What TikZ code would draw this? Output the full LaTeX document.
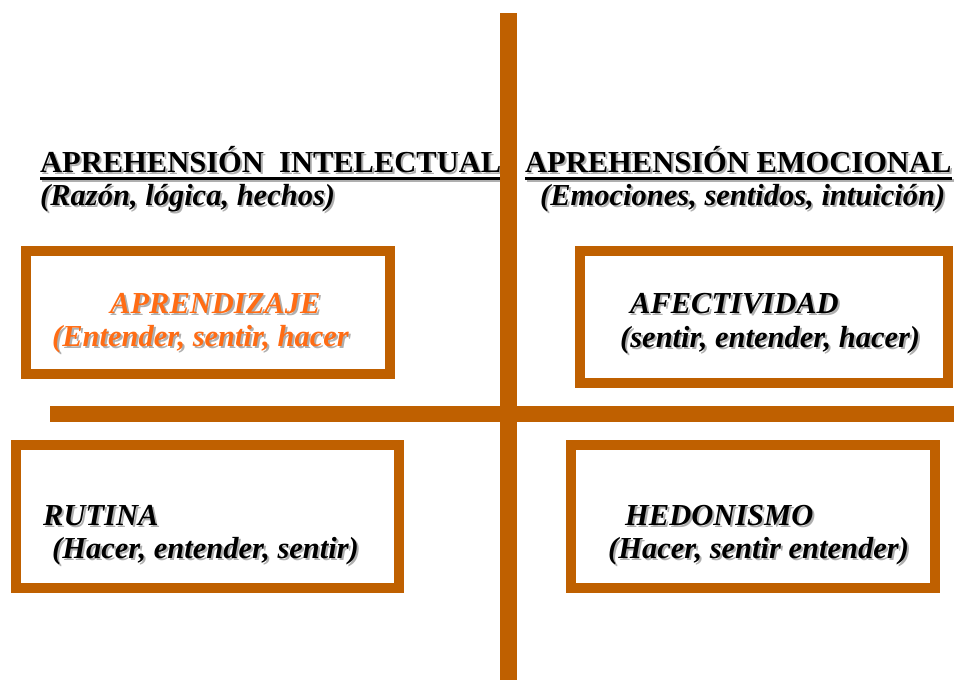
\documentclass[tikz,border=0pt]{standalone}
\usepackage{xcolor}
\usepackage{fontspec}
\setmainfont{Liberation Serif}
\usepackage{tikz}
\definecolor{barbrown}{RGB}{191,96,0}
\definecolor{hotorange}{RGB}{255,108,20}
\definecolor{shade}{RGB}{175,175,175}
% text with a soft grey drop shadow
\newcommand{\shtxt}[1]{\rlap{\hspace{2pt}\raisebox{-2pt}{\textcolor{shade}{#1}}}#1}

\begin{document}
\begin{tikzpicture}[
  x=1pt, y=-1pt,
  every node/.style={inner sep=0pt, font=\fontsize{30.5}{34}\selectfont\bfseries\itshape},
  frame/.style={rectangle, draw=barbrown, line width=10pt, fill=white},
  txt/.style={anchor=base west},
  head/.style={anchor=base west, font=\fontsize{30.5}{34}\selectfont\bfseries},
  uline/.style={line width=2.5pt, draw=black},
  ushade/.style={line width=2.5pt, draw=shade},
]
\useasboundingbox (0,0) rectangle (954,680);

% quadrant frames
\node[frame, minimum width=364pt, minimum height=123pt] (apr) at (208,312.5) {};
\node[frame, minimum width=368pt, minimum height=132pt] (afe) at (764,317) {};
\node[frame, minimum width=383pt, minimum height=143pt] (rut) at (207.5,516.5) {};
\node[frame, minimum width=364pt, minimum height=143pt] (hed) at (753,516.5) {};

% headings
\node[head] (ih) at (40,172) {\shtxt{APREHENSIÓN\ \ INTELECTUAL}};
\node[txt]  (is) at (40,205) {\shtxt{(Razón, lógica, hechos)}};
\node[head] (eh) at (525,172) {\shtxt{APREHENSIÓN EMOCIONAL}};
\node[txt]  (es) at (540,205) {\shtxt{(Emociones, sentidos, intuición)}};
\draw[ushade] ([xshift=2pt,yshift=-6pt]ih.south west) -- ([xshift=2pt,yshift=-6pt]ih.south east);
\draw[uline]  ([yshift=-4pt]ih.south west) -- ([yshift=-4pt]ih.south east);
\draw[ushade] ([xshift=2pt,yshift=-6pt]eh.south west) -- ([xshift=2pt,yshift=-6pt]eh.south east);
\draw[uline]  ([yshift=-4pt]eh.south west) -- ([yshift=-4pt]eh.south east);

% box texts
\node[txt, text=hotorange] (aprt) at (110,313) {\shtxt{APRENDIZAJE}};
\node[txt, text=hotorange] (aprs) at (52,346) {\shtxt{(Entender, sentir, hacer}};
\node[txt] (afet) at (630,313) {\shtxt{AFECTIVIDAD}};
\node[txt] (afes) at (620,347) {\shtxt{(sentir, entender, hacer)}};
\node[txt] (rutt) at (43,525) {\shtxt{RUTINA}};
\node[txt] (ruts) at (52,558) {\shtxt{(Hacer, entender, sentir)}};
\node[txt] (hedt) at (625,525) {\shtxt{HEDONISMO}};
\node[txt] (heds) at (608,558) {\shtxt{(Hacer, sentir entender)}};

% axes
\fill[barbrown] (500,13) rectangle (517,680);
\fill[barbrown] (50,406) rectangle (954,422);
\end{tikzpicture}
\end{document}
